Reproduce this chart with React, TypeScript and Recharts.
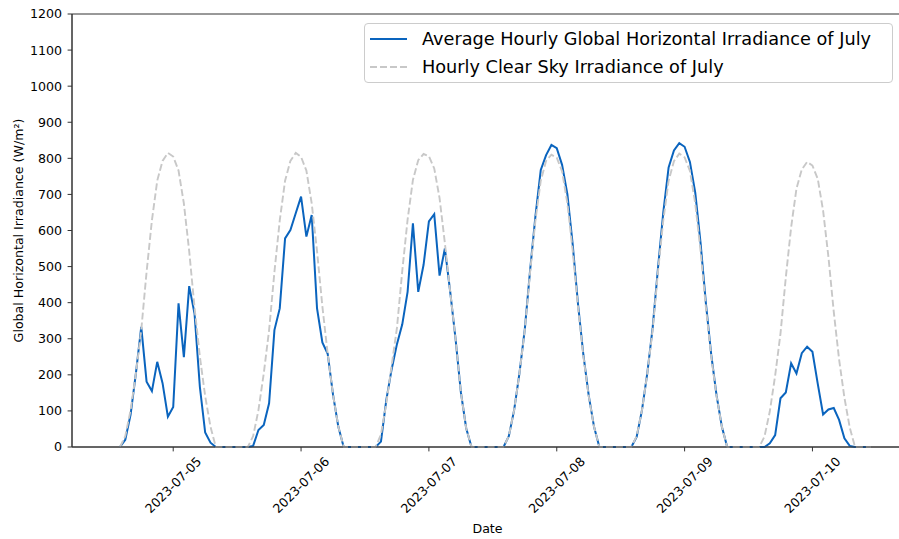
import { LineChart, Line, XAxis, YAxis, Legend, ReferenceArea, Label } from 'recharts'

const FONT = '"DejaVu Sans", sans-serif'
const BLUE = '#0a64be'
const GREY = '#c8c8c8'

// hourly readings, hour counted from 2023-07-04 00:00
const START_HOUR = 14

// one line per day (sunrise..sunset), then the night zeros
const ghi = [
  0, 20, 90, 205, 333, 181, 155, 236, 177, 84, 111, 398, 249, 446, 370, 167, 40, 12, 0,
  0, 0, 0, 0, 0,
  0, 3, 47, 61, 121, 324, 384, 578, 601, 648, 694, 583, 643, 384, 290, 258, 145, 56, 0,
  0, 0, 0, 0, 0,
  0, 15, 130, 215, 285, 340, 430, 620, 430, 505, 625, 645, 475, 550, 430, 300, 152, 52, 0,
  0, 0, 0, 0, 0,
  0, 30, 102, 205, 326, 490, 640, 768, 809, 837, 828, 782, 700, 560, 395, 255, 143, 56, 0,
  0, 0, 0, 0, 0,
  0, 28, 102, 205, 330, 495, 650, 775, 822, 842, 832, 790, 705, 565, 398, 256, 143, 56, 0,
  0, 0, 0, 0, 0,
  0, 0, 10, 33, 135, 151, 232, 204, 260, 278, 264, 175, 90, 104, 108, 75, 24, 3, 0,
  0, 0, 0,
]

const clearSky = [
  0, 30, 102, 204, 324, 485, 628, 738, 793, 815, 805, 766, 675, 543, 387, 251, 141, 56, 0,
  0, 0, 0, 0, 0,
  0, 30, 102, 204, 324, 485, 628, 738, 793, 815, 804, 766, 675, 543, 390, 258, 145, 56, 0,
  0, 0, 0, 0, 0,
  0, 35, 120, 225, 330, 488, 630, 740, 795, 812, 806, 772, 690, 565, 430, 300, 152, 52, 0,
  0, 0, 0, 0, 0,
  0, 30, 102, 204, 324, 485, 628, 738, 793, 810, 802, 764, 675, 543, 387, 251, 141, 56, 0,
  0, 0, 0, 0, 0,
  0, 30, 102, 204, 324, 485, 628, 738, 792, 813, 803, 765, 675, 543, 387, 251, 141, 56, 0,
  0, 0, 0, 0, 0,
  0, 29, 99, 198, 314, 470, 609, 716, 769, 790, 780, 743, 655, 527, 375, 243, 137, 54, 0,
  0, 0, 0,
]

const tickHours = [24, 48, 72, 96, 120, 144]
const tickLabels = ['2023-07-05', '2023-07-06', '2023-07-07', '2023-07-08', '2023-07-09', '2023-07-10']
const yTicks = [0, 100, 200, 300, 400, 500, 600, 700, 800, 900, 1000, 1100, 1200]

const X_DOMAIN: [number, number] = [5, 161]

const data = ghi.map((v, k) => ({ hour: START_HOUR + k, ghi: v, clear: clearSky[k] }))

// rotated date labels, box centred under the tick like matplotlib does
function DateTick({ x, payload }: any) {
  const idx = tickHours.indexOf(payload.value)
  const cy = 485
  return (
    <text
      x={x}
      y={cy}
      transform={`rotate(-45 ${x} ${cy})`}
      textAnchor="middle"
      dominantBaseline="central"
      fontFamily={FONT}
      fontSize={12.6}
      fill="#000"
    >
      {tickLabels[idx]}
    </text>
  )
}

function LegendBox({ payload }: any) {
  return (
    <div
      style={{
        boxSizing: 'border-box',
        width: 529,
        height: 60,
        border: '1px solid #cccccc',
        borderRadius: 4,
        background: 'rgba(255,255,255,0.8)',
        fontFamily: FONT,
        fontSize: 17.7,
        color: '#000',
        paddingTop: 1,
      }}
    >
      {(payload ?? []).map((item: any) => (
        <div key={item.value} style={{ display: 'flex', alignItems: 'center', height: 28.4 }}>
          <svg width={37} height={10} style={{ marginLeft: 5, marginRight: 15 }}>
            <line
              x1={0}
              y1={5}
              x2={37}
              y2={5}
              stroke={item.color}
              strokeWidth={2}
              strokeDasharray={item.payload?.strokeDasharray}
            />
          </svg>
          <span style={{ whiteSpace: 'nowrap' }}>{item.value}</span>
        </div>
      ))}
    </div>
  )
}

function YTitle({ viewBox }: any) {
  const cx = 18
  const cy = viewBox.y + viewBox.height / 2
  return (
    <text
      x={cx}
      y={cy}
      transform={`rotate(-90 ${cx} ${cy})`}
      textAnchor="middle"
      dominantBaseline="central"
      fontFamily={FONT}
      fontSize={12.6}
      fill="#000"
    >
      Global Horizontal Irradiance (W/m²)
    </text>
  )
}

export default function App() {
  return (
    <div style={{ position: 'absolute', left: 0, top: 0, width: 899, height: 539, overflow: 'hidden', background: '#fff' }}>
      <LineChart width={905} height={539} data={data} margin={{ top: 14, right: 2, bottom: 0, left: 0 }}>
        <XAxis
          type="number"
          dataKey="hour"
          domain={X_DOMAIN}
          ticks={tickHours}
          allowDataOverflow
          height={92}
          tickSize={4.4}
          tick={<DateTick />}
          axisLine={{ stroke: '#333' }}
          tickLine={{ stroke: '#333' }}
          interval={0}
        >
          <Label
            value="Date"
            position="insideBottom"
            offset={6.5}
            style={{ fontFamily: FONT, fontSize: 12.6, fill: '#000' }}
          />
        </XAxis>
        <YAxis
          type="number"
          domain={[0, 1200]}
          ticks={yTicks}
          width={72}
          tickSize={4.4}
          tickMargin={5.5}
          tick={{ fontFamily: FONT, fontSize: 12.6, fill: '#000' }}
          axisLine={{ stroke: '#333' }}
          tickLine={{ stroke: '#333' }}
          interval={0}
        >
          <Label content={<YTitle />} />
        </YAxis>
        <ReferenceArea x1={X_DOMAIN[0]} x2={X_DOMAIN[1]} y1={0} y2={1200} fill="none" stroke="#333" strokeWidth={1} />
        <Line
          type="linear"
          dataKey="ghi"
          name="Average Hourly Global Horizontal Irradiance of July"
          stroke={BLUE}
          strokeWidth={2}
          dot={false}
          activeDot={false}
          isAnimationActive={false}
        />
        <Line
          type="linear"
          dataKey="clear"
          name="Hourly Clear Sky Irradiance of July"
          stroke={GREY}
          strokeWidth={1.9}
          strokeDasharray="7 3"
          dot={false}
          activeDot={false}
          isAnimationActive={false}
        />
        <Legend
          layout="vertical"
          align="center"
          verticalAlign="middle"
          wrapperStyle={{ top: 22.5, left: 364, width: 529 }}
          content={<LegendBox />}
        />
      </LineChart>
    </div>
  )
}
